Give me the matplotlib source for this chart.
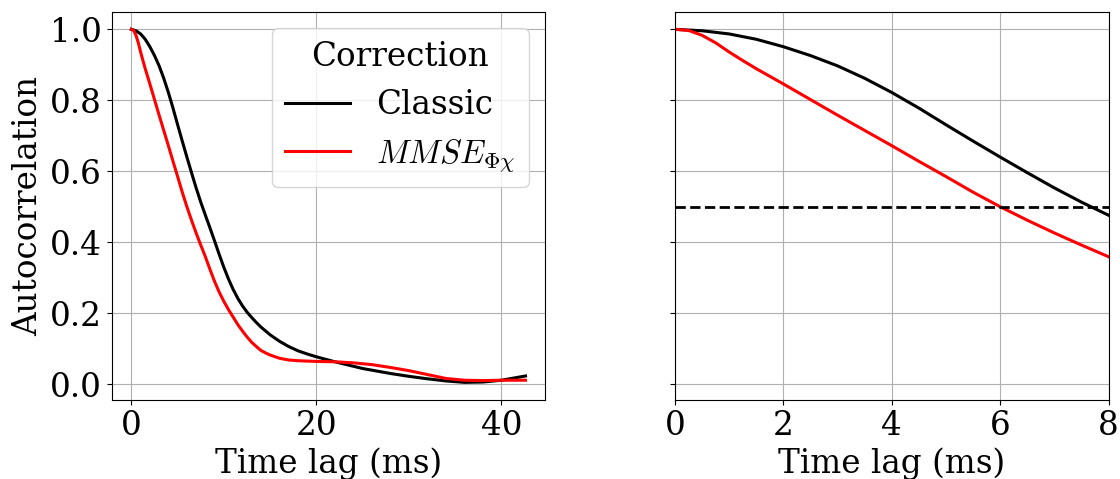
import matplotlib
matplotlib.use("Agg")
import matplotlib.pyplot as plt

# Time lag (ms) and autocorrelation
t_classic = [0, 0.5, 1, 1.5, 2, 2.5, 3, 3.5, 4, 4.5, 5, 5.5, 6, 6.5, 7, 7.5, 8,
             8.5, 9, 9.5, 10, 10.5, 11, 11.5, 12, 12.5, 13, 13.5, 14, 15, 16, 17,
             18, 19, 20, 22, 25, 28, 30, 32, 34, 36, 38, 40, 42.6]
ac_classic = [1.0, 0.996, 0.987, 0.972, 0.951, 0.926, 0.897, 0.862, 0.822, 0.778,
              0.731, 0.685, 0.640, 0.596, 0.553, 0.513, 0.476,
              0.440, 0.403, 0.365, 0.329, 0.296, 0.267, 0.242, 0.221, 0.203,
              0.188, 0.174, 0.161, 0.139, 0.121, 0.106, 0.094, 0.085, 0.077,
              0.063, 0.044, 0.030, 0.022, 0.015, 0.009, 0.005, 0.006, 0.011, 0.023]

t_mmse = [0, 0.25, 0.5, 0.75, 1, 1.25, 1.5, 2, 2.5, 3, 3.5, 4, 4.5, 5, 5.5, 6, 6.5, 7,
          7.5, 8, 8.5, 9, 9.5, 10, 10.5, 11, 11.5, 12, 12.5, 13, 13.5, 14, 14.5,
          15, 16, 17, 18, 20, 22, 24, 26, 28, 30, 32, 34, 36, 38, 40, 42.6]
ac_mmse = [1.0, 0.997, 0.983, 0.962, 0.936, 0.912, 0.889, 0.846, 0.802, 0.758,
           0.715, 0.672, 0.628, 0.585, 0.541, 0.5, 0.462, 0.426, 0.392, 0.359,
           0.323, 0.289, 0.259, 0.233, 0.21, 0.189, 0.168, 0.15, 0.133, 0.118,
           0.106, 0.095, 0.088, 0.082, 0.073, 0.068, 0.066, 0.064, 0.063, 0.060,
           0.055, 0.047, 0.038, 0.027, 0.016, 0.011, 0.010, 0.011, 0.011]

y_ticks = [0.0, 0.2, 0.4, 0.6, 0.8, 1.0]
threshold = 0.5
zoom_xlim = (0, 8)

plt.rcParams['font.family'] = 'DejaVu Serif'
plt.rcParams['mathtext.fontset'] = 'cm'
FS = 23.5

fig = plt.figure(figsize=(11.2, 4.79), dpi=100)
ax1 = fig.add_axes([0.0997, 0.1649, 0.3871, 0.8107])
ax2 = fig.add_axes([0.6027, 0.1649, 0.3871, 0.8107], sharey=ax1)

for ax in (ax1, ax2):
    ax.plot(t_classic, ac_classic, color='black', lw=2.2, label='Classic')
    ax.plot(t_mmse, ac_mmse, color='red', lw=2.2, label=r'$MMSE_{\Phi\chi}$')
    ax.grid(True)
    ax.tick_params(labelsize=FS)
    ax.set_xlabel('Time lag (ms)', fontsize=FS)

ax1.set_yticks(y_ticks)
ax2.axhline(threshold, color='black', ls='--', lw=2)
ax2.set_xlim(*zoom_xlim)
plt.setp(ax2.get_yticklabels(), visible=False)

ax1.set_ylabel('Autocorrelation', fontsize=FS)
ax1.legend(title='Correction', fontsize=FS, title_fontsize=FS, loc='upper right')

fig.savefig('out.png', dpi=100)
